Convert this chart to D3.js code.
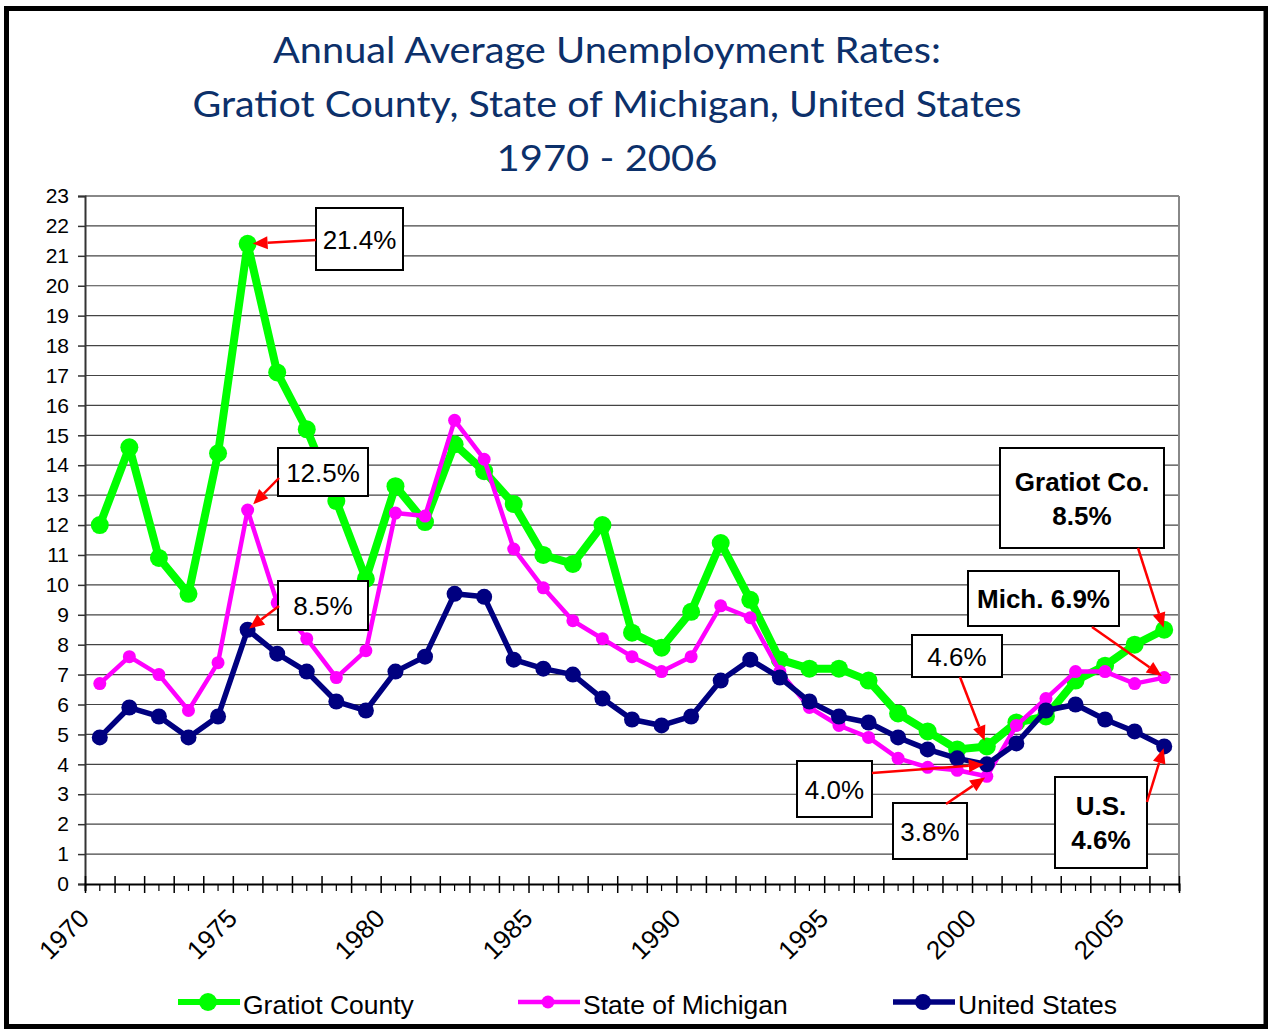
<!DOCTYPE html>
<html>
<head>
<meta charset="utf-8">
<script src="https://cdn.jsdelivr.net/npm/d3@7"></script>
<style>
    body { margin: 0; background: #fff; }
    svg text { font-family: Arial, "Liberation Sans", sans-serif; }
</style>
</head>
<body>
<svg id="chart" width="1268" height="1030"></svg>
<script>
// data
const years = d3.range(1970, 2007);
const gratiot = [12.0, 14.6, 10.9, 9.7, 14.4, 21.4, 17.1, 15.2, 12.8, 10.2,
    13.3, 12.1, 14.7, 13.8, 12.7, 11.0, 10.7, 12.0, 8.4, 7.9,
    9.1, 11.4, 9.5, 7.5, 7.2, 7.2, 6.8, 5.7, 5.1, 4.5,
    4.6, 5.4, 5.6, 6.8, 7.3, 8.0, 8.5];
const michigan = [6.7, 7.6, 7.0, 5.8, 7.4, 12.5, 9.4, 8.2, 6.9, 7.8,
    12.4, 12.3, 15.5, 14.2, 11.2, 9.9, 8.8, 8.2, 7.6, 7.1,
    7.6, 9.3, 8.9, 7.1, 5.9, 5.3, 4.9, 4.2, 3.9, 3.8,
    3.6, 5.3, 6.2, 7.1, 7.1, 6.7, 6.9];
const usa = [4.9, 5.9, 5.6, 4.9, 5.6, 8.5, 7.7, 7.1, 6.1, 5.8,
    7.1, 7.6, 9.7, 9.6, 7.5, 7.2, 7.0, 6.2, 5.5, 5.3,
    5.6, 6.8, 7.5, 6.9, 6.1, 5.6, 5.4, 4.9, 4.5, 4.2,
    4.0, 4.7, 5.8, 6.0, 5.5, 5.1, 4.6];
const seriesNames = ["Gratiot County", "State of Michigan", "United States"];
const yTicks = d3.range(0, 24);
const yearLabels = [1970, 1975, 1980, 1985, 1990, 1995, 2000, 2005];
const titleLines = ["Annual Average Unemployment Rates:",
    "Gratiot County, State of Michigan, United States",
    "1970 - 2006"];

const width = 1268, height = 1030;
const margin = { left: 85, top: 196, right: 89, bottom: 146 };

const svg = d3.select("#chart");

// outer frame
svg.append("rect")
    .attr("x", 6.5).attr("y", 8.5)
    .attr("width", 1259.5).attr("height", 1018)
    .attr("fill", "none")
    .attr("stroke", "#000")
    .attr("stroke-width", 5);

// title
const titleWidths = [668, 829, 221];
titleLines.forEach((t, i) => {
    svg.append("text")
        .attr("x", 607)
        .attr("y", 63 + i * 54)
        .attr("text-anchor", "middle")
        .attr("textLength", titleWidths[i])
        .attr("lengthAdjust", "spacingAndGlyphs")
        .style("font-family", "Lato, 'Open Sans', sans-serif")
        .style("font-size", "36px")
        .attr("fill", "#0c306a")
        .text(t);
});

const x = d3.scaleBand().domain(years).range([margin.left, width - margin.right]);
const y = d3.scaleLinear().domain([0, 23]).range([height - margin.bottom, margin.top]);
const cx = yr => x(yr) + x.bandwidth() / 2;

// gridlines
svg.append("g")
    .selectAll("line")
    .data(yTicks.slice(1))
    .enter().append("line")
    .attr("x1", margin.left).attr("x2", width - margin.right)
    .attr("y1", d => y(d)).attr("y2", d => y(d))
    .attr("stroke", d => d == 23 ? "#888" : "#444")
    .attr("stroke-width", d => d == 23 ? 2 : 1.2);

// right border
svg.append("line")
    .attr("x1", width - margin.right).attr("x2", width - margin.right)
    .attr("y1", margin.top).attr("y2", height - margin.bottom)
    .attr("stroke", "#888").attr("stroke-width", 2);

// y axis
const yAxis = svg.append("g")
    .attr("transform", `translate(${margin.left},0)`)
    .call(d3.axisLeft(y).tickValues(yTicks).tickSize(7).tickPadding(9));
yAxis.select(".domain").attr("stroke", "#333").attr("stroke-width", 2);
yAxis.selectAll("line").attr("stroke", "#333").attr("stroke-width", 1.5);
yAxis.selectAll("text").style("font-size", "21px").attr("fill", "#000");

// x axis: short ticks at category centres
const xAxis = svg.append("g")
    .attr("transform", `translate(0,${height - margin.bottom})`)
    .call(d3.axisBottom(x).tickSize(7).tickFormat(""));
xAxis.select(".domain").attr("stroke", "#000").attr("stroke-width", 2);
xAxis.selectAll("line").attr("stroke", "#000").attr("stroke-width", 1.2);

// long ticks at category boundaries
const xEdge = d3.scaleLinear().domain([0, years.length]).range([margin.left, width - margin.right]);
const xEdgeAxis = svg.append("g")
    .attr("transform", `translate(0,${height - margin.bottom})`)
    .call(d3.axisBottom(xEdge).tickValues(d3.range(0, years.length + 1)).tickSize(9).tickFormat(""));
xEdgeAxis.select(".domain").remove();
xEdgeAxis.selectAll("line").attr("y1", -8).attr("stroke", "#000").attr("stroke-width", 1.5);

// year labels
svg.append("g")
    .selectAll("text")
    .data(yearLabels)
    .enter().append("text")
    .attr("transform", d => `translate(${cx(d) - 9},920) rotate(-45)`)
    .attr("text-anchor", "end")
    .style("font-size", "26px")
    .attr("fill", "#000")
    .text(d => d);

// series
const series = [
    { values: gratiot, color: "#00ff00", lw: 8, r: 9 },
    { values: michigan, color: "#ff00ff", lw: 4.5, r: 6.5 },
    { values: usa, color: "#000080", lw: 5.5, r: 8 }
];

const line = d3.line()
    .x((d, i) => cx(years[i]))
    .y(d => y(d));

series.forEach(s => {
    const g = svg.append("g");
    g.append("path")
        .datum(s.values)
        .attr("d", line)
        .attr("fill", "none")
        .attr("stroke", s.color)
        .attr("stroke-width", s.lw)
        .attr("stroke-linejoin", "round");
    g.selectAll("circle")
        .data(s.values)
        .enter().append("circle")
        .attr("cx", (d, i) => cx(years[i]))
        .attr("cy", d => y(d))
        .attr("r", s.r)
        .attr("fill", s.color);
});

// callouts
const callouts = [
    { text: ["21.4%"], bold: false, s: 0, year: 1975, box: [316, 208, 87, 62], from: [316, 240], gap: 5 },
    { text: ["12.5%"], bold: false, s: 1, year: 1975, box: [278, 448, 90, 48], from: [279, 478], gap: 8 },
    { text: ["8.5%"], bold: false, s: 2, year: 1975, box: [278, 581, 90, 49], from: [279, 606], gap: 2 },
    { text: ["Gratiot Co.", "8.5%"], bold: true, s: 0, year: 2006, box: [1000, 448, 164, 100], from: [1138, 548], gap: 2 },
    { text: ["Mich. 6.9%"], bold: true, s: 1, year: 2006, box: [968, 571, 151, 55], from: [1092, 627], gap: 3 },
    { text: ["4.6%"], bold: false, s: 0, year: 2000, box: [912, 635, 90, 42], from: [960, 677], gap: 6 },
    { text: ["4.0%"], bold: false, s: 2, year: 2000, box: [797, 761, 75, 56], from: [872, 773], gap: 3 },
    { text: ["3.8%"], bold: false, s: 1, year: 2000, box: [893, 803, 74, 56], from: [946, 804], gap: 2 },
    { text: ["U.S.", "4.6%"], bold: true, s: 2, year: 2006, box: [1055, 777, 92, 91], from: [1147, 802], gap: 2 }
];

function arrow(g, x1, y1, x2, y2) {
    const dx = x2 - x1, dy = y2 - y1, L = Math.hypot(dx, dy);
    const ux = dx / L, uy = dy / L;
    const hl = 15, hw = 6.5;
    const bx = x2 - ux * hl, by = y2 - uy * hl;
    g.append("line")
        .attr("x1", x1).attr("y1", y1).attr("x2", bx).attr("y2", by)
        .attr("stroke", "#ff0000").attr("stroke-width", 2.5);
    g.append("polygon")
        .attr("points", [[x2, y2], [bx - uy * hw, by + ux * hw], [bx + uy * hw, by - ux * hw]].join(" "))
        .attr("fill", "#ff0000");
}

const notes = svg.append("g");
callouts.forEach(c => {
    const [bx, by, bw, bh] = c.box;
    notes.append("rect")
        .attr("x", bx).attr("y", by).attr("width", bw).attr("height", bh)
        .attr("fill", "#fff").attr("stroke", "#000").attr("stroke-width", 2);
    const mid = by + bh / 2;
    c.text.forEach((t, i) => {
        notes.append("text")
            .attr("x", bx + bw / 2)
            .attr("y", mid + 9.5 + (i - (c.text.length - 1) / 2) * 34)
            .attr("text-anchor", "middle")
            .style("font-size", "26px")
            .style("font-weight", c.bold ? "bold" : "normal")
            .attr("fill", "#000")
            .text(t);
    });
    const vals = series[c.s].values;
    const px = cx(c.year), py = y(vals[years.indexOf(c.year)]);
    const dx = px - c.from[0], dy = py - c.from[1], L = Math.hypot(dx, dy);
    arrow(notes, c.from[0], c.from[1], px - dx / L * c.gap, py - dy / L * c.gap);
});

// legend
const legendX = [178, 518, 893];
const legendY = 1002;
const legend = svg.append("g");
series.forEach((s, i) => {
    const lx = legendX[i];
    legend.append("line")
        .attr("x1", lx).attr("x2", lx + 62)
        .attr("y1", legendY).attr("y2", legendY)
        .attr("stroke", s.color)
        .attr("stroke-width", Math.min(s.lw, 6));
    legend.append("circle")
        .attr("cx", lx + 30).attr("cy", legendY)
        .attr("r", s.r)
        .attr("fill", s.color);
    legend.append("text")
        .attr("x", lx + 65).attr("y", legendY + 12)
        .style("font-size", "26.5px")
        .attr("fill", "#000")
        .text(seriesNames[i]);
});
</script>
</body>
</html>
